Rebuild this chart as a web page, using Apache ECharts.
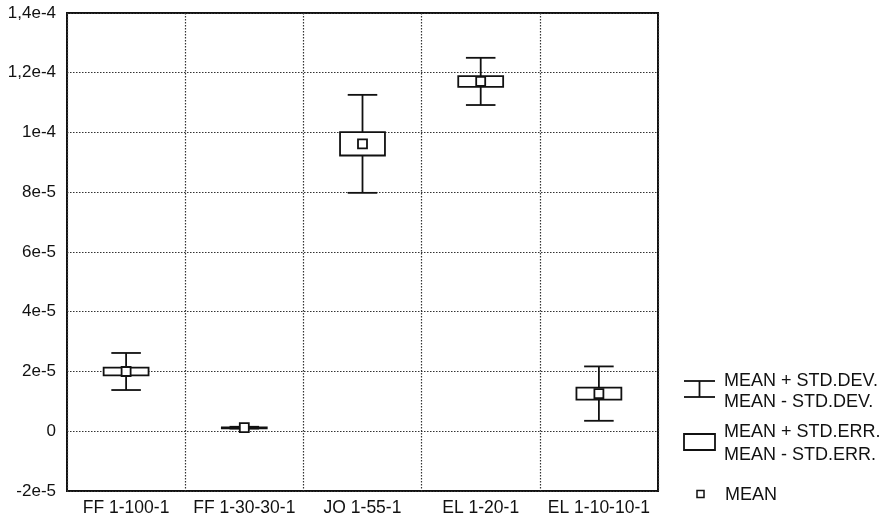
<!DOCTYPE html>
<html>
<head>
<meta charset="utf-8">
<script src="https://cdn.jsdelivr.net/npm/echarts@6/dist/echarts.min.js"></script>
<style>
html,body{margin:0;padding:0;background:#fff;}
#chart{width:888px;height:518px;}
</style>
</head>
<body>
<div id="chart"></div>
<script>
const categories = ['FF 1-100-1', 'FF 1-30-30-1', 'JO 1-55-1', 'EL 1-20-1', 'EL 1-10-10-1'];
const means  = [2.0e-5, 1.2e-6, 9.62e-5, 1.171e-4, 1.26e-5];
const stdErr = [0.13e-5, 0.1e-6, 0.39e-5, 0.18e-5, 0.2e-5];
const stdDev = [0.62e-5, 0.3e-6, 1.64e-5, 0.79e-5, 0.91e-5];
const yMin = -2e-5, yMax = 1.4e-4, yStep = 2e-5;
const yTickLabels = ['-2e-5', '0', '2e-5', '4e-5', '6e-5', '8e-5', '1e-4', '1,2e-4', '1,4e-4'];
const legendLabels = ['MEAN + STD.DEV.', 'MEAN - STD.DEV.', 'MEAN + STD.ERR.', 'MEAN - STD.ERR.', 'MEAN'];

const FONT = 'Liberation Sans, Arial, sans-serif';
const data = categories.map((c, i) => [i, means[i], stdErr[i], stdDev[i]]);

const chart = echarts.init(document.getElementById('chart'));
chart.setOption({
  backgroundColor: '#fff',
  animation: false,
  grid: {left: 67, top: 13, width: 591, height: 478, show: true, borderColor: '#111', borderWidth: 2, backgroundColor: 'transparent'},
  xAxis: {
    type: 'category', data: categories, boundaryGap: true,
    axisLine: {show: false}, axisTick: {show: false},
    axisLabel: {color: '#111', fontFamily: FONT, fontSize: 17.5, margin: 8, interval: 0},
    splitLine: {show: true, interval: 0, lineStyle: {color: '#333', type: [1.5, 1.5], width: 1.2}}
  },
  yAxis: {
    type: 'value', min: yMin, max: yMax, interval: yStep,
    axisLine: {show: false}, axisTick: {show: false},
    axisLabel: {color: '#111', fontFamily: FONT, fontSize: 17, margin: 11,
      formatter: v => yTickLabels[Math.round((v - yMin) / yStep)]},
    splitLine: {show: true, lineStyle: {color: '#333', type: [1.5, 1.5], width: 1.2}}
  },
  series: [{
    type: 'custom',
    data: data,
    encode: {x: 0, y: 1},
    renderItem: function (params, api) {
      const i = api.value(0), m = api.value(1), se = api.value(2), sd = api.value(3);
      const band = api.size([1, 0])[0];
      const c = api.coord([i, m]);
      const yT = api.coord([i, m + sd])[1], yB = api.coord([i, m - sd])[1];
      const eT = api.coord([i, m + se])[1], eB = api.coord([i, m - se])[1];
      const bw = band * 0.38, ww = band * 0.25, ms = 9;
      const st = {stroke: '#111', lineWidth: 1.8, fill: null};
      return {
        type: 'group',
        children: [
          {type: 'line', shape: {x1: c[0], y1: yT, x2: c[0], y2: yB}, style: st},
          {type: 'line', shape: {x1: c[0] - ww / 2, y1: yT, x2: c[0] + ww / 2, y2: yT}, style: st},
          {type: 'line', shape: {x1: c[0] - ww / 2, y1: yB, x2: c[0] + ww / 2, y2: yB}, style: st},
          {type: 'rect', shape: {x: c[0] - bw / 2, y: eT, width: bw, height: Math.max(eB - eT, 1)}, style: {stroke: '#111', lineWidth: 1.8, fill: '#fff'}},
          {type: 'rect', shape: {x: c[0] - ms / 2, y: c[1] - ms / 2, width: ms, height: ms}, style: {stroke: '#111', lineWidth: 1.8, fill: '#fff'}}
        ]
      };
    }
  }],
  graphic: [
    {type: 'line', shape: {x1: 684, y1: 381, x2: 715, y2: 381}, style: {stroke: '#111', lineWidth: 1.8}},
    {type: 'line', shape: {x1: 684, y1: 397, x2: 715, y2: 397}, style: {stroke: '#111', lineWidth: 1.8}},
    {type: 'line', shape: {x1: 699.5, y1: 381, x2: 699.5, y2: 397}, style: {stroke: '#111', lineWidth: 1.8}},
    {type: 'text', x: 724, y: 381, style: {text: legendLabels[0], font: '18px ' + FONT, fill: '#111', verticalAlign: 'middle'}},
    {type: 'text', x: 724, y: 402, style: {text: legendLabels[1], font: '18px ' + FONT, fill: '#111', verticalAlign: 'middle'}},
    {type: 'rect', shape: {x: 684, y: 434, width: 31, height: 16}, style: {stroke: '#111', lineWidth: 1.8, fill: '#fff'}},
    {type: 'text', x: 724, y: 432, style: {text: legendLabels[2], font: '18px ' + FONT, fill: '#111', verticalAlign: 'middle'}},
    {type: 'text', x: 724, y: 455, style: {text: legendLabels[3], font: '18px ' + FONT, fill: '#111', verticalAlign: 'middle'}},
    {type: 'rect', shape: {x: 697, y: 490.5, width: 7, height: 7}, style: {stroke: '#111', lineWidth: 1.5, fill: '#fff'}},
    {type: 'text', x: 725, y: 495, style: {text: legendLabels[4], font: '18px ' + FONT, fill: '#111', verticalAlign: 'middle'}}
  ]
});
</script>
</body>
</html>
